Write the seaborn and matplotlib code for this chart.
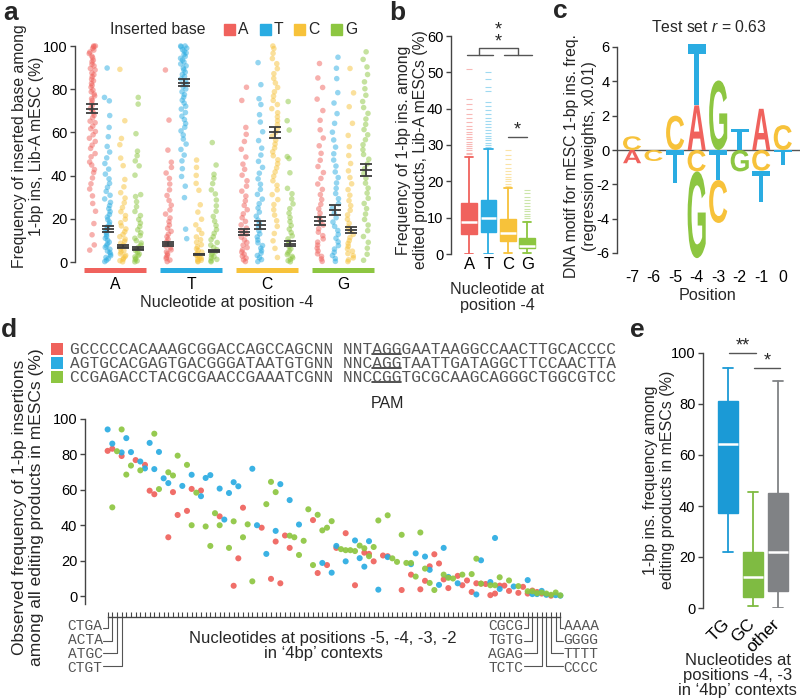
import numpy as np
import pandas as pd
import matplotlib
matplotlib.use("Agg")
import matplotlib.pyplot as plt
import seaborn as sns
from matplotlib.patches import Patch, PathPatch, Rectangle
from matplotlib.lines import Line2D
from matplotlib.textpath import TextPath
from matplotlib.font_manager import FontProperties
from matplotlib.transforms import Affine2D, blended_transform_factory

##### DATA

bases = ["A", "T", "C", "G"]
base_colors = {"A": "#f0625d", "T": "#2aace2", "C": "#f7c23a", "G": "#8dc641"}

### a: frequency of each inserted base, split by nucleotide at position -4
# values (one list per inserted base)
pos4_A = {
    "A": [5.5, 7.9, 12.6, 17.8, 23.5, 27.1, 30.6, 33.8, 36.2, 38.9, 41.4, 42.8, 44.9, 46.3, 48.7, 50.2,
          52.6, 54.1, 55.8, 57.3, 58.9, 60.4, 61.7, 62.9, 64.5, 65.2, 66.8, 67.9, 69.1, 70.4, 71.2, 72.6,
          73.5, 74.8, 75.6, 76.9, 77.7, 78.8, 79.6, 80.9, 81.8, 82.7, 83.9, 84.6, 85.8, 86.7, 87.5, 88.9,
          89.6, 90.8, 91.5, 92.7, 93.4, 94.6, 95.3, 96.5, 97.2, 98.1, 98.9, 99.6, 100, 100],
    "T": [0.2, 0.8, 1.5, 2.1, 2.9, 3.6, 4.4, 5.1, 5.9, 6.8, 7.5, 8.3, 9.2, 10.1, 11, 11.8, 12.7, 13.6,
          14.5, 15.4, 16.3, 17.4, 18.5, 19.6, 20.8, 22, 23.3, 24.7, 26.1, 27.6, 29.2, 30.9, 32.7, 34.6,
          36.4, 38.5, 40.7, 43, 45.6, 48.2, 50.9, 53.5, 58, 62.3, 67.8, 74.6, 76.2, 89.8],
    "C": [0.1, 0.6, 1.2, 1.8, 2.5, 3.1, 3.8, 4.6, 5.3, 6.1, 6.9, 7.8, 8.7, 9.6, 10.6, 11.7, 12.8, 14,
          15.3, 16.7, 18.2, 19.8, 21.5, 23.3, 25.2, 27.4, 29.6, 32.1, 34.8, 38.2, 44.6, 48.1, 54.3, 57.2,
          65.4, 89.2],
    "G": [0.1, 0.5, 1.1, 1.7, 2.4, 3, 3.7, 4.5, 5.2, 6, 6.9, 7.8, 8.8, 9.9, 11, 12.2, 13.5, 14.9, 16.4,
          18, 19.7, 21.5, 23.4, 25.6, 27.9, 30.3, 31.2, 40.2, 44.5, 46.8, 49.2, 51.3, 59.4, 73.1, 76.2],
}
pos4_T = {
    "A": [0.2, 0.9, 1.6, 2.3, 3.1, 3.9, 4.7, 5.6, 6.5, 7.4, 8.4, 9.4, 10.5, 11.7, 12.9, 14.2, 15.6, 17.1,
          18.7, 20.4, 22.2, 24.1, 26.3, 28.5, 30.8, 33.4, 36.1, 38.7, 41.2, 43.8, 46.2, 51.8, 65.7, 88.9],
    "T": [10.8, 15.2, 29.8, 35.1, 39.6, 43.2, 46.8, 49.5, 52.1, 54.6, 56.9, 58.8, 60.7, 62.4, 64.1, 65.9,
          67.5, 69.2, 70.8, 72.1, 73.6, 74.9, 76.3, 77.5, 78.8, 80.1, 81.2, 82.4, 83.6, 84.7, 85.9, 86.8,
          87.9, 88.9, 89.8, 90.8, 91.7, 92.6, 93.5, 94.3, 95.2, 96, 96.8, 97.6, 98.3, 99, 99.6, 100, 100],
    "C": [0.1, 0.4, 0.8, 1.2, 1.7, 2.2, 2.7, 3.3, 3.9, 4.6, 5.3, 6.1, 7, 8, 9.1, 10.3, 11.6, 13.2, 15,
          17.2, 19.8, 23.1, 26.5, 33.2, 36.4, 40.1, 43.8, 47.2],
    "G": [0.1, 0.6, 1.2, 1.8, 2.5, 3.2, 4, 4.8, 5.7, 6.7, 7.8, 9, 10.3, 11.7, 13.3, 15, 16.9, 18.9, 21.1,
          23.5, 26, 28.7, 31.5, 33.4, 36.3, 38.8, 40.6, 44.9, 55.3],
}
pos4_C = {
    "A": [0.2, 1, 1.8, 2.7, 3.6, 4.6, 5.6, 6.7, 7.8, 9, 10.2, 11.5, 12.8, 14.2, 15.7, 17.2, 18.8, 20.5,
          22.3, 24.2, 26.2, 28.3, 30.5, 32.8, 35.1, 37.6, 40.2, 42.9, 45.3, 48.6, 52.2, 55.8, 59.1, 62.3,
          74.8, 80.9],
    "T": [0.2, 1.1, 2, 3, 4.1, 5.2, 6.4, 7.6, 8.9, 10.2, 11.6, 13, 14.5, 16.1, 17.7, 19.4, 21.2, 23.1, 25,
          27, 29.1, 31.3, 33.6, 36, 38.5, 41.1, 43.8, 46.6, 49.5, 52.7, 56.2, 60.3, 64.8, 68.2, 72.9, 75.6,
          82.1, 92.3],
    "C": [2.1, 6.3, 9.8, 13.2, 16.5, 19.1, 21.7, 24.2, 26.6, 28.9, 31.2, 33.4, 35.5, 37.6, 39.7, 41.7,
          43.6, 45.5, 47.3, 49.2, 51, 52.8, 54.6, 56.4, 58.2, 60, 61.8, 63.6, 65.4, 67.2, 69.1, 71, 72.9,
          74.8, 76.8, 78.8, 80.8, 82.9, 85, 87.2, 89.5, 91.8, 94.2, 96.6, 98.8, 100],
    "G": [0.1, 0.6, 1.2, 1.9, 2.6, 3.4, 4.2, 5.1, 6.1, 7.1, 8.2, 9.4, 10.7, 12.1, 13.6, 15.2, 16.9, 18.7,
          20.6, 22.6, 24.7, 26.9, 29.2, 31.6, 34.1, 41.3, 47.9, 48.8, 61.1, 65.4, 74.3],
}
pos4_G = {
    "A": [0.3, 1.4, 2.6, 3.8, 5.1, 6.4, 7.8, 9.2, 10.7, 12.2, 13.8, 15.4, 17.1, 18.9, 20.7, 22.6, 24.6,
          26.7, 28.9, 31.2, 33.6, 36.1, 38.7, 41.4, 44.2, 47.1, 50.3, 53.8, 57.4, 61.2, 65.6, 70.1, 75.4,
          80.8, 85.2, 91.9],
    "T": [0.3, 1.6, 3, 4.5, 6, 7.6, 9.3, 11, 12.8, 14.6, 16.5, 18.5, 20.5, 22.6, 24.8, 27, 29.3, 31.7,
          34.1, 36.6, 39.1, 41.7, 44.4, 47.2, 50.1, 53.2, 56.5, 60.1, 64.2, 68.7, 73.6, 78.4, 84.9, 89.7,
          94.8],
    "C": [0.2, 1, 1.9, 2.9, 3.9, 5, 6.1, 7.3, 8.6, 9.9, 11.3, 12.8, 14.4, 16.1, 17.9, 19.8, 21.8, 23.9,
          26.1, 28.4, 30.9, 33.5, 36.2, 39.1, 42.2, 45.6, 49.3, 53.4, 58.6, 64.2, 71.9, 78.3, 89.6],
    "G": [0.8, 3.6, 6.4, 9.1, 11.8, 14.5, 17.1, 19.7, 22.2, 24.7, 27.1, 29.5, 31.9, 34.2, 36.5, 38.8, 41,
          43.2, 45.4, 47.6, 49.8, 52, 54.3, 56.6, 58.9, 61.3, 63.7, 66.2, 68.8, 71.5, 74.3, 77.2, 80.2,
          83.4, 86.8, 90.3, 93.8, 97.3],
}
panel_a_values = {"A": pos4_A, "T": pos4_T, "C": pos4_C, "G": pos4_G}
# mean +- s.e.m. (order A, T, C, G inserted)
a_means = {"A": [71.0, 15.2, 7.1, 6.2], "T": [8.2, 83.0, 3.5, 5.0],
           "C": [13.9, 17.2, 60.0, 8.5], "G": [19.0, 24.0, 14.8, 42.6]}
a_sems = {"A": [2.0, 1.5, 0.7, 0.6], "T": [1.0, 1.5, 0.4, 0.6],
          "C": [1.4, 1.8, 2.6, 1.2], "G": [1.8, 2.3, 1.5, 2.8]}

### b: boxplot summary per nucleotide at -4
b_q1 = [5.5, 6.0, 3.7, 1.6]
b_med = [8.9, 9.8, 5.7, 2.2]
b_q3 = [13.9, 15.0, 9.6, 4.3]
b_lo = [0.0, 0.0, 0.2, 0.3]
b_hi = [26.8, 28.9, 18.3, 8.7]
b_fliers = [
    [27.4, 27.9, 28.5, 29.1, 29.6, 30.3, 30.9, 31.6, 32.2, 32.9, 33.7, 34.5, 35.3, 36.2, 37.4, 38.6, 39.9, 41.3, 42.6, 51.0],
    [29.4, 30, 30.6, 31.3, 32, 32.6, 33.3, 34.1, 34.9, 35.7, 36.6, 37.5, 38.6, 39.7, 40.8, 41.9, 44.8, 46.1, 48.3, 50.2],
    [18.8, 19.4, 20, 20.7, 21.3, 22.1, 22.9, 23.8, 24.9, 26.1, 27.2, 28.6],
    [9.2, 9.8, 10.4, 11, 11.7, 12.4, 13.2, 14, 14.9, 15.8, 16.7, 17.6],
]

### c: motif regression weights (x0.01)
logo_pos = [-7, -6, -5, -4, -3, -2, -1, 0]
logo_w = {
    "A": [-0.77, 0, 0, 2.6, 0, 0, 2.4, 0],
    "T": [0, 0, -1.9, 3.6, -1.75, 1.25, -1.8, -0.87],
    "C": [0.8, -0.64, 2.0, -1.25, -2.5, 0, -1.2, 1.45],
    "G": [0, 0, 0, -5.05, 4.05, -1.25, 0, 0],
}

### d: observed 1-bp ins frequency per 4bp context, three target sequences
nan = np.nan
d_red = [82.0, 83.2, nan, 79.1, nan, nan, 76.8, nan, 74.1, 59.5, 57.5, nan, nan, 33.2, 58.7, 45.8, nan, 48.1,
         60.5, nan, 59.6, nan, nan, nan, 45.0, nan, nan, 5.8, 21.3, 49.9, nan, nan, nan, 38.6, nan, 9.7, 30.8,
         7.2, 34.2, 27.2, nan, nan, nan, nan, 42.9, 13.0, nan, 17.5, nan, 27.2, nan, 35.5, nan, 6.1, nan, 24.5,
         23.8, 19.6, nan, 22.9, 22.5, nan, nan, 3.4, nan, 12.1, nan, 3.8, 8.6, 16.8, 23.6, 18.4, 9.4, 4.5, nan,
         11.4, 6.1, 8.8, 2.3, 7.2, 7.0, 6.8, 0.5, 1.4, 5.9, 5.9, 2.9, nan, 1.8, 5.2, 1.4, 3.1, 2.3, 1.4, nan,
         0.2, nan, nan]
d_blue = [94.1, 86.1, nan, 81.1, 89.2, 81.3, nan, 76.0, 72.1, 86.5, 71.7, 81.4, 66.5, 63.8, nan, nan, 62.2,
          nan, 68.5, nan, 56.4, 66.7, 68.3, nan, 60.7, 43.2, 58.2, 64.3, 62.0, nan, nan, 71.9, 40.0, nan, 23.8,
          nan, 36.8, 63.2, nan, 54.2, nan, 40.4, nan, nan, nan, nan, 18.7, nan, 13.2, 28.3, nan, 19.6, nan,
          31.4, 21.4, 16.6, 31.0, nan, 3.6, nan, 22.0, nan, nan, nan, nan, 18.0, 24.1, nan, 22.3, 14.8, nan,
          6.3, 27.2, 10.8, nan, 7.2, nan, nan, nan, 0.9, 20.2, nan, 7.9, 32.8, 4.0, nan, nan, 5.4, nan, nan,
          9.0, 1.1, 1.1, 2.9, 0.7, nan, 0.5, 0.2]
d_green = [nan, 50.1, 81.8, 94.1, 68.6, 73.7, nan, 71.0, nan, nan, 91.7, 60.4, nan, 69.9, 68.1, 79.3, nan,
           74.1, 40.0, 58.4, nan, 39.3, 28.3, 46.8, 40.0, nan, 27.2, 42.2, nan, 33.2, 40.5, 8.3, nan, nan, 51.9,
           64.5, 58.7, nan, nan, 34.1, 33.2, 23.2, 31.2, 49.0, 17.5, 45.9, 37.1, 38.6, 42.3, nan, 26.5, 25.9,
           25.9, 25.4, 28.5, 27.0, 22.5, 27.7, 42.7, nan, 45.6, 21.3, 19.3, 34.6, 18.7, 18.7, 11.0, 35.9, 15.5,
           7.4, 3.4, nan, 12.1, 10.3, 9.9, nan, 12.1, nan, 12.4, 21.1, 7.0, nan, 6.1, 6.1, 10.6, nan, 8.8, nan,
           5.6, nan, 2.7, 2.7, 1.6, 2.0, 1.4, 0.7, 2.0, 0.4]
d_seqs = ["GCCCCCACAAAGCGGACCAGCCAGCNN NNTAGGGAATAAGGCCAACTTGCACCCC",
          "AGTGCACGAGTGACGGGATAATGTGNN NNCAGGTAATTGATAGGCTTCCAACTTA",
          "CCGAGACCTACGCGAACCGAAATCGNN NNCCGGTGCGCAAGCAGGGCTGGCGTCC"]
d_left_contexts = ["CTGA", "ACTA", "ATGC", "CTGT"]
d_right_in = ["CGCG", "TGTG", "AGAG", "TCTC"]
d_right_out = ["AAAA", "GGGG", "TTTT", "CCCC"]

### e: boxplot summary by nucleotides at -4,-3
e_labels = ["TG", "GC", "other"]
e_q1 = [37.1, 4.2, 6.8]
e_med = [64.5, 12.0, 22.1]
e_q3 = [81.3, 22.0, 45.0]
e_lo = [22.0, 0.8, 0.0]
e_hi = [94.0, 45.6, 89.2]
e_colors = ["#1b9ad6", "#7fbb42", "#808285"]

##### STYLE
sns.set_style("ticks")
plt.rcParams["font.family"] = ["Liberation Sans", "DejaVu Sans"]
plt.rcParams["mathtext.fontset"] = "custom"
plt.rcParams["mathtext.it"] = "Liberation Sans:italic"
plt.rcParams["mathtext.rm"] = "Liberation Sans"
plt.rcParams["axes.unicode_minus"] = False
plt.rcParams["axes.edgecolor"] = "#444444"
plt.rcParams["xtick.color"] = "#444444"
plt.rcParams["ytick.color"] = "#444444"
plt.rcParams["xtick.labelcolor"] = "black"
plt.rcParams["ytick.labelcolor"] = "black"
plt.rcParams["axes.linewidth"] = 1.0

W, H = 800, 700
LINE = "#555555"
TICK_FS = 10.5
LAB_FS = 11.3


def box(l, t, r, b):
    return [l / W, 1 - b / H, (r - l) / W, (b - t) / H]


def fx(x):
    return x / W


def fy(y):
    return 1 - y / H


def style_y(ax, ticks):
    ax.set_yticks(ticks)
    ax.tick_params(axis="y", length=3.5, width=1, labelsize=TICK_FS, pad=2)


fig = plt.figure(figsize=(8, 7), dpi=100)

for letter, x, y in [("a", 3, 20), ("b", 389, 20), ("c", 553, 18), ("d", 1, 337), ("e", 630, 337)]:
    fig.text(fx(x), fy(y), letter, fontsize=19, fontweight="bold", va="baseline")

##### PANEL A
rows = []
for pos, d in panel_a_values.items():
    for ins, vals in d.items():
        for v in vals:
            rows.append((pos, ins, v))
df_a = pd.DataFrame(rows, columns=["pos", "ins", "freq"])

ax_a = fig.add_axes(box(75, 46, 381, 262))
np.random.seed(7)
sns.stripplot(data=df_a, x="pos", y="freq", hue="ins", order=bases, hue_order=bases,
              palette=base_colors, dodge=True, jitter=0.17, size=4, alpha=0.5,
              linewidth=0, legend=False, ax=ax_a)
for coll in ax_a.collections:
    coll.set_clip_on(False)
for i, pos in enumerate(bases):
    for j, ins in enumerate(bases):
        ax_a.errorbar(i + (j - 1.5) * 0.2, a_means[pos][j], yerr=a_sems[pos][j], fmt="_", ms=9,
                      mew=1.3, color="#3d3d3d", capsize=4.5, capthick=1.3, elinewidth=1.3, zorder=5)
    ax_a.hlines(-3.7, i - 0.41, i + 0.41, color=base_colors[pos], lw=3.6, clip_on=False)
ax_a.set_xlim(-0.53, 3.5)
ax_a.set_ylim(0, 100)
ax_a.set_xticks(range(4))
ax_a.set_xticklabels(bases)
ax_a.tick_params(axis="x", length=0, pad=10.5, labelsize=LAB_FS)
style_y(ax_a, range(0, 101, 20))
sns.despine(ax=ax_a, bottom=True)
ax_a.set_xlabel("Nucleotide at position -4", fontsize=LAB_FS + 0.3)
ax_a.xaxis.set_label_coords(0.497, -0.153)
ax_a.set_ylabel("Frequency of inserted base among\n1-bp ins, Lib-A mESC (%)", fontsize=LAB_FS)
ax_a.yaxis.set_label_coords(-0.1, 0.537)
fig.text(fx(110), fy(30), "Inserted base", fontsize=LAB_FS, va="center")
ax_a.legend(handles=[Patch(color=base_colors[b]) for b in bases], labels=bases, ncol=4,
            loc="center left", bbox_to_anchor=(fx(224), fy(30)), bbox_transform=fig.transFigure,
            frameon=False, handlelength=0.7, handleheight=0.7, handletextpad=0.2,
            columnspacing=0.7, borderaxespad=0, borderpad=0, fontsize=LAB_FS)

##### PANEL B
ax_b = fig.add_axes(box(451, 36, 537, 254))
stats_b = [dict(med=b_med[k], q1=b_q1[k], q3=b_q3[k], whislo=b_lo[k], whishi=b_hi[k],
                fliers=b_fliers[k]) for k in range(4)]
art = ax_b.bxp(stats_b, positions=range(4), widths=0.82, capwidths=0.42, patch_artist=True,
               manage_ticks=False, medianprops=dict(color="white", lw=1.8),
               whiskerprops=dict(lw=1.3), capprops=dict(lw=1.3),
               flierprops=dict(marker="_", ms=4, mew=0.8, alpha=0.45, linestyle="none"))
for k, b in enumerate(bases):
    col = base_colors[b]
    art["boxes"][k].set(facecolor=col, edgecolor=col, lw=1)
    for ln in art["whiskers"][2 * k:2 * k + 2] + art["caps"][2 * k:2 * k + 2]:
        ln.set_color(col)
    art["fliers"][k].set(markeredgecolor=col, markerfacecolor=col)
ax_b.set_xlim(-0.93, 3.5)
ax_b.set_ylim(0, 60)
ax_b.set_xticks(range(4))
ax_b.set_xticklabels(bases)
ax_b.tick_params(axis="x", length=0, pad=2, labelsize=LAB_FS + 0.7)
style_y(ax_b, range(0, 61, 10))
sns.despine(ax=ax_b, bottom=True)
# significance brackets
kw = dict(color=LINE, lw=1, clip_on=False)
ax_b.plot([-0.13, 1.22], [54.8, 54.8], **kw)
ax_b.plot([1.82, 3.23], [54.8, 54.8], **kw)
ax_b.plot([0.52, 0.52, 2.51, 2.51], [54.8, 56.7, 56.7, 54.8], **kw)
ax_b.text(1.5, 60.0, "*\n*", ha="center", va="center", fontsize=13, linespacing=0.55)
ax_b.plot([2.03, 3.0], [32.2, 32.2], **kw)
ax_b.text(2.5, 34.0, "*", ha="center", va="center", fontsize=13)
ax_b.set_xlabel("Nucleotide at\nposition -4", fontsize=LAB_FS + 0.3, linespacing=1.05)
ax_b.xaxis.set_label_coords(0.535, -0.128)
ax_b.set_ylabel("Frequency of 1-bp ins. among\nedited products, Lib-A mESCs (%)", fontsize=LAB_FS)
ax_b.yaxis.set_label_coords(-0.262, 0.477)

##### PANEL C
ax_c = fig.add_axes(box(617, 47, 800, 253))
logo_font = FontProperties(family="Liberation Sans", weight="bold")


def draw_letter(ax, letter, x, bottom, height, color, width=0.84):
    path = TextPath((0, 0), letter, size=1, prop=logo_font)
    ext = path.get_extents()
    tr = (Affine2D().translate(-ext.x0, -ext.y0)
          .scale(width / ext.width, height / ext.height)
          .translate(x - width / 2, bottom))
    ax.add_patch(PathPatch(tr.transform_path(path), facecolor=color, edgecolor="none", clip_on=False))


for k, p in enumerate(logo_pos):
    ups = sorted((logo_w[b][k], b) for b in bases if logo_w[b][k] > 0)
    downs = sorted((-logo_w[b][k], b) for b in bases if logo_w[b][k] < 0)
    y = 0
    for h, b in ups:
        draw_letter(ax_c, b, p, y, h, base_colors[b])
        y += h
    y = 0
    for h, b in downs:
        draw_letter(ax_c, b, p, y - h, h, base_colors[b])
        y -= h
ax_c.axhline(0, color=LINE, lw=1, zorder=0)
ax_c.set_xlim(-7.7, 0.8)
ax_c.set_ylim(-6, 6)
ax_c.set_xticks(logo_pos)
ax_c.set_xticklabels([str(p) for p in logo_pos])
ax_c.tick_params(axis="x", length=0, pad=12.5, labelsize=LAB_FS)
style_y(ax_c, range(-6, 7, 2))
sns.despine(ax=ax_c, bottom=True)
ax_c.set_title("Test set $r$ = 0.63", fontsize=LAB_FS, pad=11)
ax_c.set_xlabel("Position", fontsize=LAB_FS + 0.3)
ax_c.xaxis.set_label_coords(0.497, -0.17)
ax_c.set_ylabel("DNA motif for mESC 1-bp ins. freq.\n(regression weights, x0.01)", fontsize=LAB_FS)
ax_c.yaxis.set_label_coords(-0.112, 0.47)

##### PANEL D
d_cols = {"seq1": d_red, "seq2": d_blue, "seq3": d_green}
d_pal = {"seq1": "#ef625c", "seq2": "#2aace2", "seq3": "#8dc641"}
df_d = pd.DataFrame(d_cols)
df_d["context"] = np.arange(len(df_d))
df_d = df_d.melt(id_vars="context", var_name="target", value_name="freq").dropna()

ax_d = fig.add_axes(box(85, 419, 583, 604))
sns.scatterplot(data=df_d, x="context", y="freq", hue="target", palette=d_pal, s=19, linewidth=0,
                alpha=0.92, legend=False, ax=ax_d, zorder=3)
for coll in ax_d.collections:
    coll.set_clip_on(False)
n_ctx = len(d_red)
sns.despine(ax=ax_d)
ax_d.spines["bottom"].set_position(("outward", 9))
ax_d.spines["bottom"].set_bounds(0, n_ctx - 1)
ax_d.set_xticks(range(n_ctx))
ax_d.set_xticklabels([])
ax_d.tick_params(axis="x", direction="in", length=3.5, width=0.8)
style_y(ax_d, range(0, 101, 20))
ax_d.set_xlabel("Nucleotides at positions -5, -4, -3, -2\nin \u20184bp\u2019 contexts", fontsize=12,
                linespacing=1.0)
ax_d.xaxis.set_label_coords(0.478, -0.146)
ax_d.set_ylabel("Observed frequency of 1-bp insertions\namong all editing products in mESCs (%)",
                fontsize=12.5)
ax_d.yaxis.set_label_coords(-0.082, 0.524)

# context leader labels: one text block per group, one leader line per context
blend = blended_transform_factory(ax_d.transData, fig.transFigure)
mono = dict(family="Liberation Mono", fontsize=10.5, color="#555555", va="center", linespacing=1.0)
spine_y = fy(616)
row_y = [628, 640.7, 653.3, 666]
block_y = fy(sum(row_y) / 4)
leader = dict(transform=blend, color=LINE, lw=0.8, clip_on=False)
for k in range(4):
    ax_d.add_line(Line2D([-0.9, k, k], [fy(row_y[k]), fy(row_y[k]), spine_y], **leader))
    t = n_ctx - 8 + k
    ax_d.add_line(Line2D([89.3, t, t], [fy(row_y[k]), fy(row_y[k]), spine_y], **leader))
    t = n_ctx - 1 - k
    ax_d.add_line(Line2D([97.6, t, t], [fy(row_y[k]), fy(row_y[k]), spine_y], **leader))
ax_d.text(-1.1, block_y, "\n".join(d_left_contexts), transform=blend, ha="right", **mono)
ax_d.text(89.1, block_y, "\n".join(d_right_in), transform=blend, ha="right", **mono)
ax_d.text(97.7, block_y, "\n".join(d_right_out), transform=blend, ha="left", **mono)

# target sequence legend
seq_fs = 11.7
char_w = 0.6 * seq_fs * 100 / 72
for k, (seq, col) in enumerate(zip(d_seqs, d_pal.values())):
    yc = [349, 363, 377][k]
    fig.add_artist(Rectangle((fx(51), fy(yc + 6)), 12 / W, 12 / H, transform=fig.transFigure,
                             facecolor=col, edgecolor="none"))
    fig.text(fx(70), fy(yc), seq, family="Liberation Mono", fontsize=seq_fs, color="#555555",
             va="center")
    fig.add_artist(Line2D([fx(70 + 31 * char_w), fx(70 + 34 * char_w)], [fy(yc + 5), fy(yc + 5)],
                          transform=fig.transFigure, color="#333333", lw=1.2))
fig.text(fx(388), fy(403), "PAM", fontsize=11.5, ha="center", va="center")

##### PANEL E
ax_e = fig.add_axes(box(703, 353, 790, 608))
stats_e = [dict(med=e_med[k], q1=e_q1[k], q3=e_q3[k], whislo=e_lo[k], whishi=e_hi[k], fliers=[])
           for k in range(3)]
art = ax_e.bxp(stats_e, positions=range(3), widths=0.8, capwidths=0.4, patch_artist=True,
               manage_ticks=False, showfliers=False, medianprops=dict(color="white", lw=1.8),
               whiskerprops=dict(lw=1.3), capprops=dict(lw=1.3))
for k, col in enumerate(e_colors):
    art["boxes"][k].set(facecolor=col, edgecolor=col, lw=1)
    for ln in art["whiskers"][2 * k:2 * k + 2] + art["caps"][2 * k:2 * k + 2]:
        ln.set_color(col)
ax_e.set_xlim(-1.0, 2.5)
ax_e.set_ylim(0, 100)
ax_e.set_xticks(range(3))
ax_e.set_xticklabels(e_labels, rotation=45, ha="right", va="center", rotation_mode="anchor")
ax_e.tick_params(axis="x", length=0, pad=10, labelsize=12.5)
style_y(ax_e, range(0, 101, 20))
sns.despine(ax=ax_e, bottom=True)
ax_e.plot([0.04, 1.12], [100, 100], **kw)
ax_e.text(0.6, 102.6, "**", ha="center", va="center", fontsize=13)
ax_e.plot([1.04, 2.09], [94.1, 94.1], **kw)
ax_e.text(1.57, 96.8, "*", ha="center", va="center", fontsize=13)
ax_e.set_xlabel("Nucleotides at\npositions -4, -3\nin \u20184bp\u2019 contexts", fontsize=12,
                linespacing=1.0)
ax_e.xaxis.set_label_coords(0.40, -0.176)
ax_e.set_ylabel("1-bp ins. frequency among\nediting products in mESCs (%)", fontsize=LAB_FS + 0.2)
ax_e.yaxis.set_label_coords(-0.32, 0.502)

plt.savefig("out.png", dpi=100)
